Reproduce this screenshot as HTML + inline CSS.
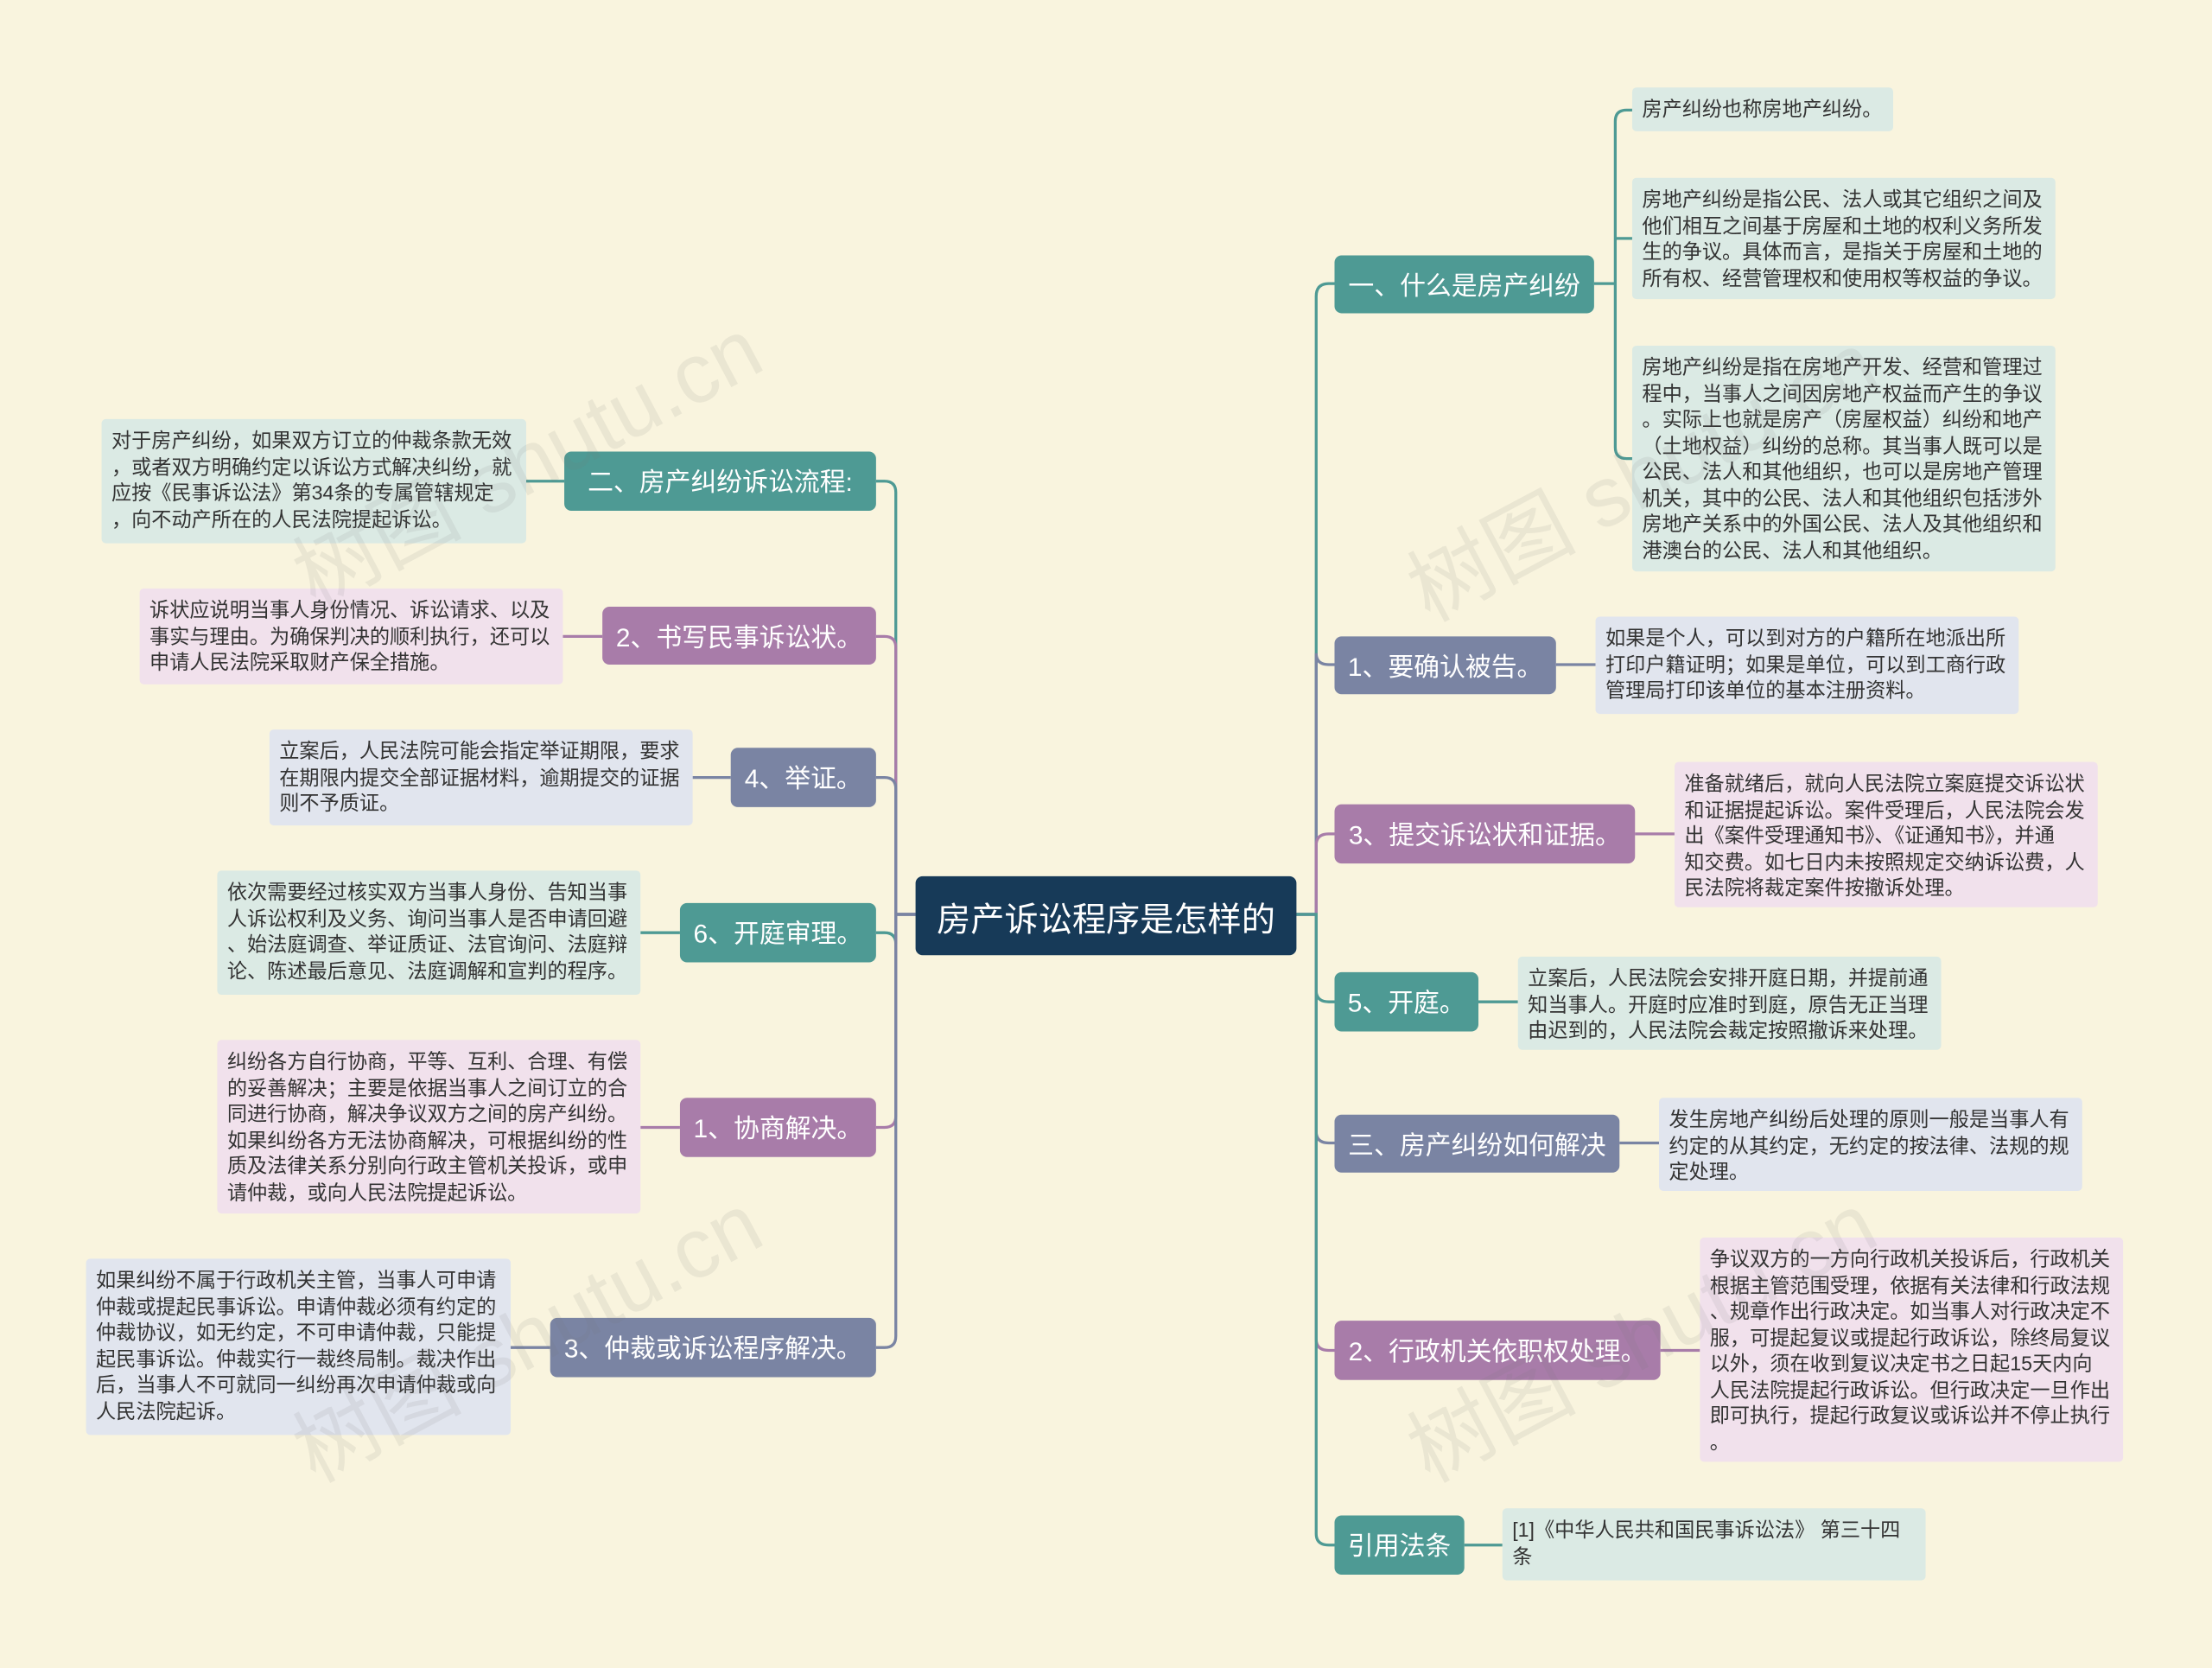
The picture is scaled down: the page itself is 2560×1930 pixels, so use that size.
<!DOCTYPE html>
<html><head><meta charset="utf-8">
<style>
html,body{margin:0;padding:0;width:2560px;height:1929px;overflow:hidden;background:#f9f4de;}
#w{position:absolute;left:0;top:0;width:1568px;height:1182px;transform:scale(1.63265);transform-origin:0 0;font-family:"Liberation Sans","Noto Sans CJK SC",sans-serif;}
.n{position:absolute;box-sizing:border-box;border-radius:5px;color:#fff;font-size:18.3px;display:flex;align-items:center;justify-content:center;white-space:nowrap;}
.t{background:#4e9a94;} .p{background:#a87ca9;} .s{background:#7a84a3;}
.l{position:absolute;box-sizing:border-box;border-radius:3px;color:#333;font-size:14.2px;line-height:18.5px;padding:7px 7px 5px;white-space:nowrap;}
.lt{background:#dbeae4;} .lp{background:#f1e1ec;} .ls{background:#e1e5ee;}
.wm{position:absolute;font-size:60px;color:rgba(120,120,120,0.11);transform:rotate(-28deg);white-space:nowrap;}
svg{position:absolute;left:0;top:0;}
</style></head><body><div id="w">
<svg width="1568" height="1182" fill="none" stroke-width="2">
<path d="M918 648 H933 V210 Q933 201 942 201 H946" stroke="#4e9a94"/>
<path d="M918 648 H933 V463 Q933 471 942 471 H946" stroke="#7a84a3"/>
<path d="M918 648 H933 V599 Q933 591 942 591 H946" stroke="#a87ca9"/>
<path d="M918 648 H933 V702 Q933 710 942 710 H946" stroke="#4e9a94"/>
<path d="M918 648 H933 V802 Q933 810 942 810 H946" stroke="#7a84a3"/>
<path d="M918 648 H933 V949 Q933 957 942 957 H946" stroke="#a87ca9"/>
<path d="M918 648 H933 V1087 Q933 1095 942 1095 H946" stroke="#4e9a94"/>
<path d="M1130 201 H1145 M1145 201 V86 Q1145 78 1153 78 H1157 M1145 201 V317 Q1145 325 1153 325 H1157 M1145 169 H1157" stroke="#4e9a94"/>
<path d="M1103 471 H1131" stroke="#7a84a3"/>
<path d="M1159 591 H1187" stroke="#a87ca9"/>
<path d="M1048 710 H1076" stroke="#4e9a94"/>
<path d="M1148 810 H1176" stroke="#7a84a3"/>
<path d="M1177 957 H1205" stroke="#a87ca9"/>
<path d="M1038 1095 H1065" stroke="#4e9a94"/>
<path d="M649 648 H635 V349 Q635 341 627 341 H621" stroke="#4e9a94"/>
<path d="M649 648 H635 V459 Q635 451 627 451 H621" stroke="#a87ca9"/>
<path d="M649 648 H635 V559 Q635 551 627 551 H621" stroke="#7a84a3"/>
<path d="M649 648 H635 V669 Q635 661 627 661 H621" stroke="#4e9a94"/>
<path d="M649 648 H635 V791 Q635 799 627 799 H621" stroke="#a87ca9"/>
<path d="M649 648 H635 V947 Q635 955 627 955 H621" stroke="#7a84a3"/>
<path d="M400 341 H373" stroke="#4e9a94"/>
<path d="M427 451 H399" stroke="#a87ca9"/>
<path d="M518 551 H491" stroke="#7a84a3"/>
<path d="M482 661 H454" stroke="#4e9a94"/>
<path d="M482 799 H454" stroke="#a87ca9"/>
<path d="M390 955 H362" stroke="#7a84a3"/>
</svg>

<div class="n" style="left:649px;top:621px;width:270px;height:56px;background:#173a58;font-size:24px;">房产诉讼程序是怎样的</div>

<div class="n t" style="left:946px;top:181px;width:184px;height:41px;">一、什么是房产纠纷</div>
<div class="n s" style="left:946px;top:451px;width:157px;height:41px;">1、要确认被告。</div>
<div class="n p" style="left:946px;top:570px;width:213px;height:42px;">3、提交诉讼状和证据。</div>
<div class="n t" style="left:946px;top:689px;width:102px;height:42px;">5、开庭。</div>
<div class="n s" style="left:946px;top:790px;width:202px;height:41px;">三、房产纠纷如何解决</div>
<div class="n p" style="left:946px;top:936px;width:231px;height:42px;">2、行政机关依职权处理。</div>
<div class="n t" style="left:946px;top:1074px;width:92px;height:42px;">引用法条</div>

<div class="n t" style="left:400px;top:320px;width:221px;height:42px;">二、房产纠纷诉讼流程:</div>
<div class="n p" style="left:427px;top:430px;width:194px;height:41px;">2、书写民事诉讼状。</div>
<div class="n s" style="left:518px;top:530px;width:103px;height:42px;">4、举证。</div>
<div class="n t" style="left:482px;top:640px;width:139px;height:42px;">6、开庭审理。</div>
<div class="n p" style="left:482px;top:778px;width:139px;height:42px;">1、协商解决。</div>
<div class="n s" style="left:390px;top:934px;width:231px;height:42px;">3、仲裁或诉讼程序解决。</div>

<div class="l lt" style="left:1157px;top:62px;width:185px;height:31px;">房产纠纷也称房地产纠纷。</div>
<div class="l lt" style="left:1157px;top:126px;width:300px;height:86px;">房地产纠纷是指公民、法人或其它组织之间及<br>他们相互之间基于房屋和土地的权利义务所发<br>生的争议。具体而言，是指关于房屋和土地的<br>所有权、经营管理权和使用权等权益的争议。</div>
<div class="l lt" style="left:1157px;top:245px;width:300px;height:160px;">房地产纠纷是指在房地产开发、经营和管理过<br>程中，当事人之间因房地产权益而产生的争议<br>。实际上也就是房产（房屋权益）纠纷和地产<br>（土地权益）纠纷的总称。其当事人既可以是<br>公民、法人和其他组织，也可以是房地产管理<br>机关，其中的公民、法人和其他组织包括涉外<br>房地产关系中的外国公民、法人及其他组织和<br>港澳台的公民、法人和其他组织。</div>
<div class="l ls" style="left:1131px;top:437px;width:300px;height:69px;">如果是个人，可以到对方的户籍所在地派出所<br>打印户籍证明；如果是单位，可以到工商行政<br>管理局打印该单位的基本注册资料。</div>
<div class="l lp" style="left:1187px;top:540px;width:300px;height:103px;">准备就绪后，就向人民法院立案庭提交诉讼状<br>和证据提起诉讼。案件受理后，人民法院会发<br>出《案件受理通知书》、《证通知书》，并通<br>知交费。如七日内未按照规定交纳诉讼费，人<br>民法院将裁定案件按撤诉处理。</div>
<div class="l lt" style="left:1076px;top:678px;width:300px;height:66px;">立案后，人民法院会安排开庭日期，并提前通<br>知当事人。开庭时应准时到庭，原告无正当理<br>由迟到的，人民法院会裁定按照撤诉来处理。</div>
<div class="l ls" style="left:1176px;top:778px;width:300px;height:66px;">发生房地产纠纷后处理的原则一般是当事人有<br>约定的从其约定，无约定的按法律、法规的规<br>定处理。</div>
<div class="l lp" style="left:1205px;top:877px;width:300px;height:159px;">争议双方的一方向行政机关投诉后，行政机关<br>根据主管范围受理，依据有关法律和行政法规<br>、规章作出行政决定。如当事人对行政决定不<br>服，可提起复议或提起行政诉讼，除终局复议<br>以外，须在收到复议决定书之日起15天内向<br>人民法院提起行政诉讼。但行政决定一旦作出<br>即可执行，提起行政复议或诉讼并不停止执行<br>。</div>
<div class="l lt" style="left:1065px;top:1069px;width:300px;height:51px;">[1]《中华人民共和国民事诉讼法》 第三十四<br>条</div>

<div class="l lt" style="left:72px;top:297px;width:301px;height:88px;">对于房产纠纷，如果双方订立的仲裁条款无效<br>，或者双方明确约定以诉讼方式解决纠纷，就<br>应按《民事诉讼法》第34条的专属管辖规定<br>，向不动产所在的人民法院提起诉讼。</div>
<div class="l lp" style="left:99px;top:417px;width:300px;height:68px;">诉状应说明当事人身份情况、诉讼请求、以及<br>事实与理由。为确保判决的顺利执行，还可以<br>申请人民法院采取财产保全措施。</div>
<div class="l ls" style="left:191px;top:517px;width:300px;height:68px;">立案后，人民法院可能会指定举证期限，要求<br>在期限内提交全部证据材料，逾期提交的证据<br>则不予质证。</div>
<div class="l lt" style="left:154px;top:617px;width:300px;height:88px;">依次需要经过核实双方当事人身份、告知当事<br>人诉讼权利及义务、询问当事人是否申请回避<br>、始法庭调查、举证质证、法官询问、法庭辩<br>论、陈述最后意见、法庭调解和宣判的程序。</div>
<div class="l lp" style="left:154px;top:737px;width:300px;height:123px;">纠纷各方自行协商，平等、互利、合理、有偿<br>的妥善解决；主要是依据当事人之间订立的合<br>同进行协商，解决争议双方之间的房产纠纷。<br>如果纠纷各方无法协商解决，可根据纠纷的性<br>质及法律关系分别向行政主管机关投诉，或申<br>请仲裁，或向人民法院提起诉讼。</div>
<div class="l ls" style="left:61px;top:892px;width:301px;height:125px;">如果纠纷不属于行政机关主管，当事人可申请<br>仲裁或提起民事诉讼。申请仲裁必须有约定的<br>仲裁协议，如无约定，不可申请仲裁，只能提<br>起民事诉讼。仲裁实行一裁终局制。裁决作出<br>后，当事人不可就同一纠纷再次申请仲裁或向<br>人民法院起诉。</div>

<div class="wm" style="left:190px;top:280px;">树图 shutu.cn</div>
<div class="wm" style="left:190px;top:900px;">树图 shutu.cn</div>
<div class="wm" style="left:980px;top:290px;">树图 shutu.cn</div>
<div class="wm" style="left:980px;top:900px;">树图 shutu.cn</div>
</div></body></html>
